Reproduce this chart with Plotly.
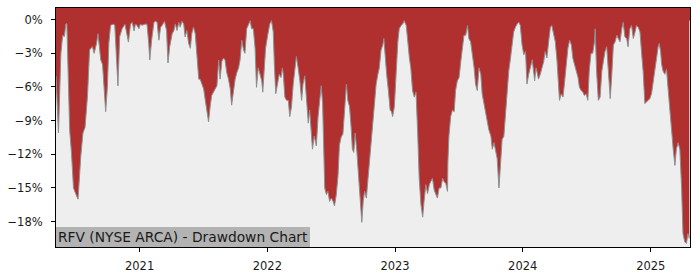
import plotly.graph_objects as go

dates = [
"2020-05-07","2020-05-14","2020-05-21","2020-05-26","2020-05-31","2020-06-04","2020-06-07","2020-06-15","2020-06-20","2020-06-26",
"2020-07-02","2020-07-09","2020-07-17","2020-07-23","2020-07-29","2020-08-05","2020-08-11","2020-08-19","2020-08-24","2020-08-31",
"2020-09-04","2020-09-07","2020-09-12","2020-09-17","2020-09-21","2020-09-26","2020-10-01","2020-10-05","2020-10-10","2020-10-18",
"2020-10-22","2020-10-26","2020-10-31","2020-11-05","2020-11-12","2020-11-20","2020-11-26","2020-11-30","2020-12-06","2020-12-11",
"2020-12-16","2020-12-20","2020-12-25","2020-12-30","2021-01-03","2021-01-08","2021-01-16","2021-01-22","2021-01-27","2021-01-30",
"2021-02-04","2021-02-11","2021-02-15","2021-02-20","2021-02-25","2021-03-02","2021-03-06","2021-03-13","2021-03-19","2021-03-23",
"2021-03-28","2021-04-04","2021-04-09","2021-04-13","2021-04-18","2021-04-23","2021-04-27","2021-05-02","2021-05-07","2021-05-11",
"2021-05-16","2021-05-21","2021-05-26","2021-05-30","2021-06-04","2021-06-09","2021-06-14","2021-06-19","2021-06-23","2021-06-28",
"2021-07-03","2021-07-07","2021-07-12","2021-07-17","2021-07-22","2021-07-26","2021-07-31","2021-08-05","2021-08-10","2021-08-15",
"2021-08-19","2021-08-24","2021-08-29","2021-09-02","2021-09-07","2021-09-12","2021-09-17","2021-09-21","2021-09-26","2021-10-01",
"2021-10-06","2021-10-11","2021-10-15","2021-10-20","2021-10-25","2021-10-29","2021-11-03","2021-11-08","2021-11-13","2021-11-17",
"2021-11-22","2021-11-27","2021-12-01","2021-12-06","2021-12-11","2021-12-16","2021-12-19","2021-12-23","2021-12-27","2022-01-02",
"2022-01-08","2022-01-13","2022-01-18","2022-01-21","2022-01-25","2022-01-30","2022-02-04","2022-02-09","2022-02-13","2022-02-16",
"2022-02-20","2022-02-25","2022-03-02","2022-03-06","2022-03-11","2022-03-16","2022-03-21","2022-03-25","2022-03-30","2022-04-04",
"2022-04-09","2022-04-13","2022-04-18","2022-04-23","2022-04-28","2022-05-02","2022-05-07","2022-05-10","2022-05-15","2022-05-21",
"2022-05-26","2022-05-30","2022-06-04","2022-06-08","2022-06-11","2022-06-14","2022-06-19","2022-06-23","2022-06-28","2022-07-03",
"2022-07-08","2022-07-12","2022-07-17","2022-07-22","2022-07-26","2022-07-31","2022-08-05","2022-08-10","2022-08-15","2022-08-19",
"2022-08-24","2022-08-29","2022-09-01","2022-09-05","2022-09-09","2022-09-14","2022-09-19","2022-09-23","2022-09-28","2022-10-02",
"2022-10-06","2022-10-11","2022-10-15","2022-10-20","2022-10-25","2022-10-30","2022-11-03","2022-11-08","2022-11-13","2022-11-17",
"2022-11-22","2022-11-27","2022-11-30","2022-12-03","2022-12-08","2022-12-13","2022-12-18","2022-12-22","2022-12-25","2022-12-30",
"2023-01-04","2023-01-09","2023-01-13","2023-01-18","2023-01-23","2023-01-27","2023-02-02","2023-02-06","2023-02-11","2023-02-15",
"2023-02-20","2023-02-25","2023-03-02","2023-03-07","2023-03-11","2023-03-16","2023-03-21","2023-03-25","2023-03-30","2023-04-04",
"2023-04-09","2023-04-13","2023-04-18","2023-04-23","2023-04-28","2023-05-02","2023-05-07","2023-05-12","2023-05-17","2023-05-21",
"2023-05-26","2023-05-31","2023-06-01","2023-06-04","2023-06-09","2023-06-14","2023-06-19","2023-06-23","2023-06-28","2023-07-03",
"2023-07-08","2023-07-13","2023-07-17","2023-07-22","2023-07-27","2023-07-31","2023-08-05","2023-08-10","2023-08-15","2023-08-19",
"2023-08-24","2023-08-29","2023-09-03","2023-09-07","2023-09-12","2023-09-17","2023-09-22","2023-09-26","2023-10-02","2023-10-06",
"2023-10-11","2023-10-15","2023-10-20","2023-10-25","2023-10-30","2023-11-03","2023-11-08","2023-11-13","2023-11-18","2023-11-22",
"2023-11-27","2023-12-02","2023-12-06","2023-12-11","2023-12-16","2023-12-21","2023-12-25","2023-12-30","2024-01-04","2024-01-09",
"2024-01-13","2024-01-18","2024-01-23","2024-01-28","2024-02-02","2024-02-04","2024-02-08","2024-02-12","2024-02-15","2024-02-20",
"2024-02-25","2024-03-01","2024-03-05","2024-03-10","2024-03-15","2024-03-20","2024-03-24","2024-03-29","2024-04-03","2024-04-08",
"2024-04-12","2024-04-15","2024-04-20","2024-04-25","2024-04-29","2024-05-04","2024-05-09","2024-05-14","2024-05-19","2024-05-23",
"2024-05-28","2024-06-02","2024-06-07","2024-06-11","2024-06-16","2024-06-21","2024-06-25","2024-06-30","2024-07-05","2024-07-09",
"2024-07-14","2024-07-19","2024-07-24","2024-07-26","2024-07-30","2024-08-04","2024-08-09","2024-08-14","2024-08-18","2024-08-23",
"2024-08-28","2024-09-02","2024-09-07","2024-09-11","2024-09-16","2024-09-21","2024-09-26","2024-09-30","2024-10-05","2024-10-10",
"2024-10-14","2024-10-19","2024-10-24","2024-10-28","2024-11-02","2024-11-07","2024-11-12","2024-11-17","2024-11-21","2024-11-26",
"2024-12-01","2024-12-06","2024-12-10","2024-12-15","2024-12-20","2024-12-24","2024-12-29","2025-01-03","2025-01-08","2025-01-13",
"2025-01-17","2025-01-22","2025-01-25","2025-01-29","2025-02-01","2025-02-05","2025-02-10","2025-02-15","2025-02-19","2025-02-24",
"2025-03-02","2025-03-06","2025-03-11","2025-03-15","2025-03-20","2025-03-25","2025-03-30","2025-04-03","2025-04-08","2025-04-13",
"2025-04-17","2025-04-21",
]

drawdown_pct = [
-5.0,-10.1,-3.0,-1.4,-1.5,-0.4,-0.35,-9.8,-11.8,-15.0,
-15.5,-16.0,-12.1,-10.1,-9.6,-6.8,-2.7,-2.4,-3.0,-2.1,
-1.25,-2.4,-3.6,-4.0,-5.9,-8.2,-5.9,-2.1,-0.5,-0.4,
-0.5,-2.7,-5.9,-1.5,-0.8,-0.4,-1.25,-2.0,-0.4,-0.23,
-1.0,-0.4,-0.52,-0.81,-0.4,-0.5,-0.4,-0.4,-2.1,-3.6,
-1.9,-0.23,-0.14,-0.23,-1.83,-0.67,-0.52,-0.14,-0.96,-3.86,
-2.4,-1.25,-0.96,-0.38,-0.96,-0.23,-0.67,-0.14,-0.38,-1.54,
-0.96,-2.1,-2.55,-1.25,-0.67,-1.25,-3.28,-5.3,-5.3,-5.74,
-6.17,-7.04,-7.91,-9.1,-7.62,-6.75,-6.46,-6.17,-5.88,-3.6,
-5.3,-3.71,-3.42,-3.6,-4.72,-5.3,-6.17,-7.62,-6.17,-5.3,
-4.7,-4.29,-3.6,-1.83,-2.7,-3.0,-0.8,-0.4,-0.09,-0.81,
-0.81,-2.55,-6.03,-4.29,-4.87,-5.45,-6.46,-4.29,-2.55,-1.39,
-0.38,-0.09,-1.1,-4.0,-6.6,-5.74,-4.87,-5.16,-4.29,-5.0,
-6.9,-7.19,-7.19,-8.64,-7.77,-5.74,-4.29,-3.28,-4.29,-5.45,
-7.19,-5.74,-5.0,-7.48,-9.22,-8.06,-9.8,-11.54,-10.38,-11.25,
-8.64,-7.48,-5.88,-7.48,-11.8,-15.0,-15.6,-15.3,-16.2,-15.9,
-16.2,-16.6,-15.6,-13.9,-11.2,-10.45,-10.2,-8.35,-5.74,-7.19,
-7.77,-9.8,-11.54,-11.83,-10.1,-11.83,-14.43,-16.17,-18.06,-16.17,
-15.3,-15.9,-14.43,-13.3,-11.25,-8.93,-8.06,-5.74,-4.87,-4.29,
-2.7,-2.26,-1.68,-3.13,-4.87,-6.32,-8.06,-8.2,-8.64,-7.77,
-4.58,-1.97,-0.81,-0.52,-0.38,-0.09,-0.52,-1.97,-3.42,-4.29,
-6.32,-6.9,-6.46,-10.38,-14.14,-16.46,-17.6,-16.17,-14.7,-15.5,
-14.7,-14.43,-14.14,-15.2,-15.6,-15.9,-15.0,-15.0,-14.14,-14.43,
-14.6,-15.3,-12.7,-10.38,-8.64,-8.06,-8.2,-6.32,-5.45,-5.16,
-3.71,-2.55,-1.39,-1.39,-0.52,-1.68,-1.97,-3.13,-4.29,-5.74,
-6.32,-4.29,-4.87,-6.61,-7.48,-8.06,-9.22,-9.8,-10.38,-11.54,
-10.96,-11.54,-12.4,-15.0,-12.4,-10.67,-10.38,-8.06,-5.74,-4.58,
-3.42,-2.26,-1.1,-0.67,-0.38,-0.23,-0.52,-2.26,-3.13,-2.84,
-5.74,-4.87,-4.29,-3.57,-4.87,-5.45,-4.29,-5.0,-5.3,-4.87,
-4.29,-3.71,-2.84,-3.42,-1.97,-0.67,-0.52,-1.39,-1.97,-3.71,
-6.32,-7.19,-6.61,-6.9,-5.74,-4.0,-2.55,-1.83,-2.26,-3.42,
-4.0,-4.58,-5.16,-6.03,-6.32,-6.46,-6.75,-6.61,-7.19,-4.58,
-2.99,-2.99,-1.97,-0.81,-4.58,-7.19,-6.9,-4.58,-3.71,-2.84,
-2.41,-4.58,-7.04,-5.16,-2.26,-1.97,-1.39,-1.68,-1.97,-0.81,
-0.23,-1.54,-1.68,-2.41,-0.81,-0.52,-1.68,-1.1,-0.52,-0.67,
-1.1,-3.13,-4.58,-7.48,-7.33,-7.19,-7.04,-6.61,-5.45,-4.0,
-3.13,-2.41,-2.12,-2.84,-4.0,-4.58,-4.87,-4.43,-6.03,-8.06,
-10.67,-11.54,-12.99,-11.54,-10.96,-11.54,-15.0,-19.07,-19.8,-19.94,
-19.07,-19.5,
]

year_ticks = ["2021-01-01", "2022-01-01", "2023-01-01", "2024-01-01", "2025-01-01"]
year_labels = ["2021", "2022", "2023", "2024", "2025"]
pct_ticks = [0, -3, -6, -9, -12, -15, -18]
pct_labels = ["0%", "\u22123%", "\u22126%", "\u22129%", "\u221212%", "\u221215%", "\u221218%"]
title_text = "RFV (NYSE ARCA) - Drawdown Chart"

Y_TOP = 1.04
Y_BOTTOM = -20.26
RED = "#b03030"
FONT = "DejaVu Sans"

fig = go.Figure()
fig.add_trace(go.Scatter(
    x=dates, y=drawdown_pct, mode="lines",
    line=dict(color="#8c8f90", width=1),
    fill="tozeroy", fillcolor=RED,
    hoverinfo="skip", showlegend=False,
))

# red band above the zero line, up to the top of the axes
fig.add_shape(type="rect", xref="paper", x0=0, x1=1, yref="y", y0=-0.08, y1=Y_TOP,
              fillcolor=RED, line=dict(width=0), layer="below")

fig.add_annotation(
    text=title_text, xref="paper", yref="paper", x=0, y=0,
    xanchor="left", yanchor="bottom", showarrow=False,
    bgcolor="#b3b3b3", borderpad=1, borderwidth=1, bordercolor="#b3b3b3",
    font=dict(family=FONT, size=13.8, color="#1a1a1a"),
)

axis_common = dict(
    showgrid=False, zeroline=False, showline=True, linecolor="black",
    linewidth=1, mirror=True, ticks="outside", ticklen=4, tickwidth=1,
    tickcolor="black", tickfont=dict(family=FONT, size=11.5, color="#1a1a1a"),
)

fig.update_layout(
    width=700, height=280,
    margin=dict(l=53, r=10, t=7, b=28, pad=0),
    paper_bgcolor="white", plot_bgcolor="#eeeeee",
    xaxis=dict(type="date", range=["2020-05-07", "2025-04-23"],
               tickmode="array", tickvals=year_ticks, ticktext=year_labels,
               ticklabelstandoff=4, **axis_common),
    yaxis=dict(range=[Y_BOTTOM, Y_TOP], tickmode="array",
               tickvals=pct_ticks, ticktext=pct_labels,
               ticklabelstandoff=6, **axis_common),
)

fig.write_html("out.html")
